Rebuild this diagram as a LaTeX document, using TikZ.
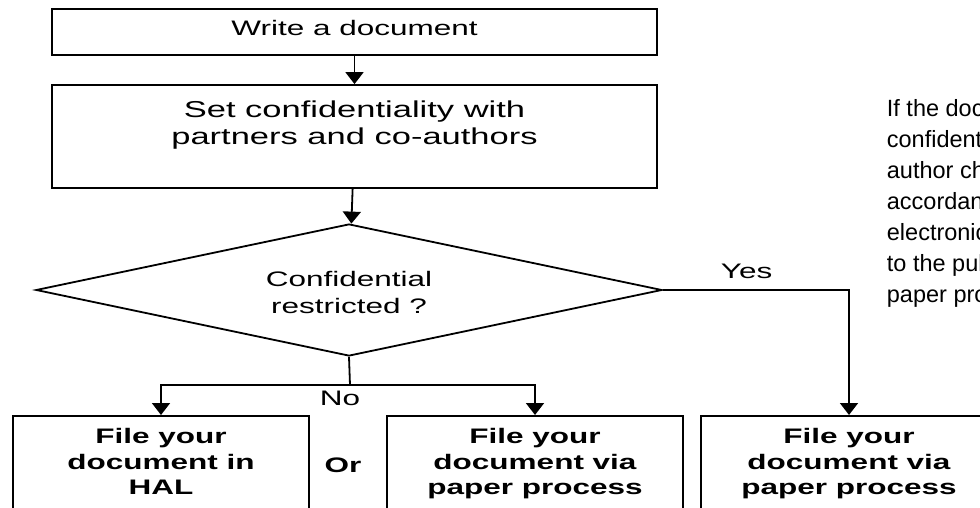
\documentclass[tikz,border=0pt]{standalone}
\usepackage{fontspec}
\setmainfont{Liberation Sans}[FakeStretch=1.5]
\newfontfamily\notefont{Liberation Sans}
\usetikzlibrary{shapes.geometric,arrows.meta}

\begin{document}
\begin{tikzpicture}[x=1pt,y=-1pt,line width=1.8pt,
	every node/.style={black,font=\fontsize{21}{27}\selectfont},
	stepbox/.style={draw,minimum width=605pt,inner sep=0pt,align=center},
	filebox/.style={draw,minimum width=296pt,minimum height=120pt,anchor=north,inner sep=0pt,align=center,text depth=29pt,font=\fontsize{21}{25.5}\selectfont\bfseries},
	arr/.style={-{Triangle[length=12pt,width=18pt]}}]
	\useasboundingbox (0,0) rectangle (980,508);
	\clip (0,0) rectangle (980,508);

	\node[stepbox,minimum height=46pt,text depth=8pt] (write) at (354.5,32) {Write a document};
	\node[stepbox,minimum height=103pt,text depth=28pt,font=\fontsize{23}{27}\selectfont] (conf) at (354.5,136.5) {Set confidentiality with\\partners and co-authors};
	\node[draw,diamond,aspect=4.75,minimum width=626pt,minimum height=132pt,inner sep=0pt,align=center,text height=47pt] (decision) at (349,290) {Confidential\\restricted ?};

	\coordinate (split) at (350,385);
	\node[filebox] (hal) at (161,415) {File your\\document in\\HAL};
	\node[filebox] (paper) at (535,415) {File your\\document via\\paper process};
	\node[filebox] (paperyes) at (849,415) {File your\\document via\\paper process};

	\node[font=\fontsize{21}{27}\selectfont\bfseries] (or) at (343,465) {Or};
	\node (no) at (340,398) {No};
	\node[anchor=north west,align=left,inner sep=0pt,font=\notefont\fontsize{23.5}{31}\selectfont] (note) at (886,98.5) {If the doc\\confident\\author ch\\accordan\\electronic\\to the pul\\paper pro};

	\draw[arr] (write) -- (conf);
	\draw[arr] (conf) -- (decision);
	\draw[arr] (decision.east) -| node[pos=0.225,above=10pt,inner sep=0pt] {Yes} (paperyes.north);
	\draw (decision.south) -- (split);
	\draw[arr] (split) -| (hal.north);
	\draw[arr] (split) -| (paper.north);
\end{tikzpicture}
\end{document}
